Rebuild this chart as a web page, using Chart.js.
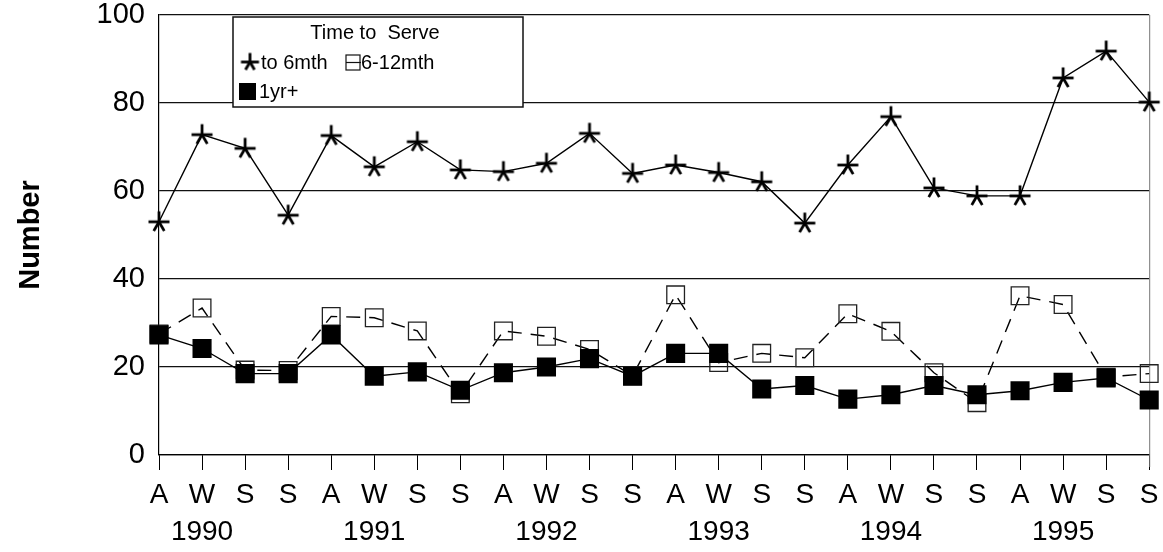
<!DOCTYPE html>
<html>
<head>
<meta charset="utf-8">
<script src="https://cdn.jsdelivr.net/npm/chart.js@4.4.0/dist/chart.umd.min.js"></script>
<style>
html, body { margin: 0; padding: 0; background: #fff; }
#wrap { width: 1163px; height: 552px; }
</style>
</head>
<body>
<div id="wrap"><canvas id="serveChart" width="1163" height="552"></canvas></div>
<script>
// seasons per year, years shown under the W tick
var seasons = ['A','W','S','S', 'A','W','S','S', 'A','W','S','S',
               'A','W','S','S', 'A','W','S','S', 'A','W','S','S'];
var years = ['','1990','','', '','1991','','', '','1992','','',
             '','1993','','', '','1994','','', '','1995','',''];

var toSixMonths = [53, 72.8, 69.7, 54.5, 72.6, 65.5, 71.2, 64.8, 64.4, 66.3, 73.1, 64.0,
                   65.9, 64.2, 62.1, 52.7, 65.9, 76.9, 60.7, 58.9, 58.9, 85.7, 91.8, 80.2];
var sixToTwelve = [27.5, 33.4, 19.3, 19.2, 31.5, 31.2, 28.2, 13.9, 28.2, 27.0, 24.0, 18.0,
                   36.4, 21.0, 23.1, 22.1, 32.1, 28.1, 18.7, 11.9, 36.2, 34.2, 17.7, 18.5];
var oneYearPlus = [27.3, 24.2, 18.5, 18.5, 27.3, 17.9, 18.9, 14.7, 18.7, 20.0, 21.9, 17.9,
                   23.1, 23.1, 15.0, 15.8, 12.7, 13.7, 15.8, 13.7, 14.6, 16.5, 17.5, 12.5];

var seriesNames = ['to 6mth', '6-12mth', '1yr+'];
var legendTitle = 'Time to  Serve';
var yTicks = [0, 20, 40, 60, 80, 100];

var fontFamily = '"Liberation Sans", Arial, Helvetica, sans-serif';

// asterisk marker: up arm, cross bar, two legs
function makeStar(size, lw) {
    var c = document.createElement('canvas');
    c.width = size; c.height = size;
    var g = c.getContext('2d');
    var r = size / 2 - 1.5;
    g.strokeStyle = '#000';
    g.lineWidth = lw;
    g.lineCap = 'butt';
    g.translate(size / 2, size / 2);
    var arms = [-90, 180, 0, 120, 60];
    for (var i = 0; i < arms.length; i++) {
        var ang = arms[i] * Math.PI / 180;
        g.beginPath();
        g.moveTo(0, 0);
        g.lineTo(Math.cos(ang) * r, Math.sin(ang) * r);
        g.stroke();
    }
    return c;
}
var starMark = makeStar(24, 2.8);
var starSmall = makeStar(21, 2.8);

// legend box drawn inside the plot, top left
var legendBox = {
    id: 'legendBox',
    afterDraw: function(chart) {
        var ctx = chart.ctx, a = chart.chartArea;
        var x = a.left + 74, y = a.top + 2, w = 290, h = 90;
        ctx.save();
        ctx.fillStyle = '#fff';
        ctx.fillRect(x, y, w, h);
        ctx.strokeStyle = '#111';
        ctx.lineWidth = 1.5;
        ctx.strokeRect(x, y, w, h);

        ctx.fillStyle = '#000';
        ctx.font = '20px ' + fontFamily;
        ctx.textBaseline = 'middle';
        ctx.textAlign = 'center';
        ctx.fillText(legendTitle, x + 142, y + 16);

        ctx.textAlign = 'left';
        ctx.drawImage(starSmall, x + 17 - 10.5, y + 45 - 10.5);
        ctx.fillText(seriesNames[0], x + 28, y + 46);

        ctx.lineWidth = 1.2;
        ctx.strokeRect(x + 113, y + 38, 14, 15);
        ctx.beginPath();
        ctx.moveTo(x + 113, y + 45.5);
        ctx.lineTo(x + 128, y + 45.5);
        ctx.stroke();
        ctx.fillText(seriesNames[1], x + 128, y + 46);

        ctx.fillRect(x + 6, y + 66, 17, 17);
        ctx.fillText(seriesNames[2], x + 26, y + 75);
        ctx.restore();
    }
};

// thin right border of the plot
var rightEdge = {
    id: 'rightEdge',
    beforeDatasetsDraw: function(chart) {
        var ctx = chart.ctx, a = chart.chartArea;
        ctx.save();
        ctx.strokeStyle = '#777';
        ctx.lineWidth = 1;
        ctx.beginPath();
        ctx.moveTo(a.right + 0.5, a.top);
        ctx.lineTo(a.right + 0.5, a.bottom + 12);
        ctx.stroke();
        ctx.restore();
    }
};

var ctx = document.getElementById('serveChart').getContext('2d');
var serveChart = new Chart(ctx, {
    type: 'line',
    data: {
        labels: seasons,
        datasets: [{
            label: seriesNames[0],
            data: toSixMonths,
            borderColor: '#000',
            borderWidth: 1.4,
            pointStyle: starMark,
            pointRadius: 10,
            order: 2,
            fill: false
        }, {
            label: seriesNames[1],
            data: sixToTwelve,
            borderColor: '#000',
            borderWidth: 1.4,
            borderDash: [14, 9],
            pointStyle: 'rect',
            pointRadius: 12.5,
            pointBorderWidth: 1.3,
            pointBorderColor: '#222',
            pointBackgroundColor: 'rgba(255,255,255,0)',
            order: 1,
            fill: false
        }, {
            label: seriesNames[2],
            data: oneYearPlus,
            borderColor: '#000',
            borderWidth: 1.4,
            pointStyle: 'rect',
            pointRadius: 13.5,
            pointBorderWidth: 0,
            pointBackgroundColor: '#000',
            order: 0,
            fill: false
        }]
    },
    options: {
        responsive: false,
        animation: false,
        events: [],
        layout: { padding: { left: 0, right: 10, top: 0, bottom: 3 } },
        plugins: {
            legend: { display: false },
            tooltip: { enabled: false }
        },
        scales: {
            x: {
                type: 'category',
                afterFit: function(scale) {
                    scale.height = 57;
                    scale.paddingLeft = 0;
                    scale.paddingRight = 0;
                },
                grid: { drawOnChartArea: false, drawTicks: true, tickLength: 15, color: '#000', lineWidth: 1 },
                border: { display: true, color: '#000', width: 1.2 },
                ticks: {
                    autoSkip: false, maxRotation: 0, padding: 8, color: '#000',
                    font: { family: fontFamily, size: 28 }
                }
            },
            x2: {
                type: 'category',
                labels: years,
                position: 'bottom',
                afterFit: function(scale) {
                    scale.height = 37;
                    scale.paddingLeft = 0;
                    scale.paddingRight = 0;
                },
                grid: { display: false, drawTicks: false },
                border: { display: false },
                ticks: {
                    autoSkip: false, maxRotation: 0, padding: 3, color: '#000',
                    font: { family: fontFamily, size: 28 }
                }
            },
            y: {
                min: 0,
                max: 100,
                afterBuildTicks: function(scale) {
                    scale.ticks = yTicks.map(function(v) { return { value: v }; });
                },
                afterFit: function(scale) {
                    scale.width = 159;
                    scale.paddingTop = 15;
                    scale.paddingBottom = 0;
                },
                grid: { drawTicks: false, color: '#111', lineWidth: 1.2 },
                border: { display: true, color: '#000', width: 1.2 },
                ticks: {
                    padding: 14, color: '#000',
                    font: { family: fontFamily, size: 29 }
                },
                title: {
                    display: true,
                    text: 'Number',
                    color: '#000',
                    padding: { top: 14, bottom: 0 },
                    font: { family: fontFamily, size: 29, weight: 'bold' }
                }
            }
        }
    },
    plugins: [rightEdge, legendBox]
});
</script>
</body>
</html>
